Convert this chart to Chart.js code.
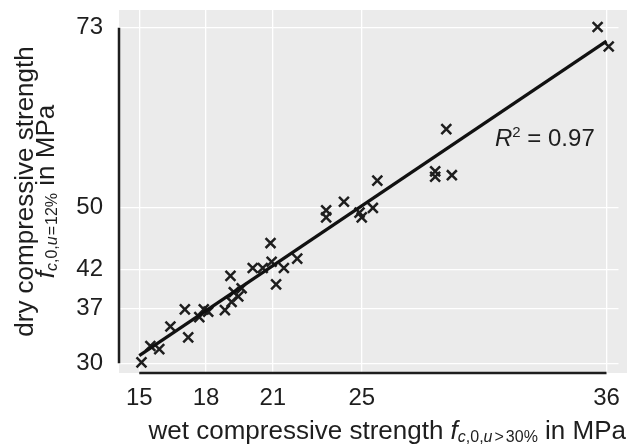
<!DOCTYPE html>
<html>
<head>
<meta charset="utf-8">
<script src="https://cdn.jsdelivr.net/npm/chart.js@4"></script>
<style>
  html, body { margin: 0; padding: 0; background: #fff; overflow: hidden; }
  canvas { display: block; }
</style>
</head>
<body>
<canvas id="strengthChart" width="628" height="446"></canvas>
<script>
// wet vs dry compressive strength (MPa)
const wetStrength = [15.1, 15.5, 15.9, 16.4, 17.2, 17.05, 17.7, 17.9, 18.1, 18.85,
  19.1, 19.25, 19.6, 19.45, 19.15, 20.1, 20.55, 20.9, 20.95, 21.5,
  21.15, 22.1, 23.4, 23.4, 24.2, 24.9, 25.0, 25.5, 25.7, 28.3,
  28.3, 29.05, 28.8, 35.6, 36.1];
const dryStrength = [30.1, 32.2, 31.8, 34.7, 33.3, 36.9, 35.9, 36.9, 36.6, 36.8,
  41.2, 39.1, 39.6, 38.55, 37.85, 42.2, 42.2, 45.4, 43.0, 42.2,
  40.1, 43.4, 49.6, 48.7, 50.7, 49.3, 48.7, 49.9, 53.4, 54.6,
  53.9, 54.1, 60.0, 73.1, 70.6];

// regression line end points
const fitX = [15, 36];
const fitY = [30.96, 71.28];
const rSquared = '0.97';

const xTicks = [15, 18, 21, 25, 36];
const yTicks = [30, 37, 42, 50, 73];

const FONT = '"Liberation Sans", Arial, Helvetica, sans-serif';
const INK = '#1e1e1e';
const X_MIN = 14.09;
const X_PX_PER_UNIT = 22.25;
const PANEL_RIGHT = 627;

// draw a row of text pieces with different fonts / offsets
function drawRuns(ctx, runs, x, y, align) {
  let w = 0;
  runs.forEach(r => { ctx.font = r.font; w += ctx.measureText(r.t).width + (r.pad || 0) * 2; });
  let cx = align === 'right' ? x - w : align === 'center' ? x - w / 2 : x;
  runs.forEach(r => {
    ctx.font = r.font;
    cx += r.pad || 0;
    ctx.fillText(r.t, cx, y + (r.dy || 0));
    cx += ctx.measureText(r.t).width + (r.pad || 0);
  });
}

const frame = {
  id: 'frame',
  beforeDraw(chart) {
    const { ctx, chartArea: a } = chart;
    ctx.save();
    ctx.fillStyle = '#ebebeb';
    ctx.fillRect(a.left, a.top, PANEL_RIGHT - a.left, a.bottom - a.top);
    ctx.restore();
  },
  afterDraw(chart) {
    const { ctx, chartArea: a, scales: { x, y } } = chart;
    ctx.save();
    // range frame axes
    ctx.strokeStyle = INK;
    ctx.lineWidth = 2.5;
    ctx.beginPath();
    ctx.moveTo(a.left, y.getPixelForValue(yTicks[yTicks.length - 1]));
    ctx.lineTo(a.left, y.getPixelForValue(yTicks[0]));
    ctx.moveTo(x.getPixelForValue(xTicks[0]), a.bottom);
    ctx.lineTo(x.getPixelForValue(xTicks[xTicks.length - 1]), a.bottom);
    ctx.stroke();

    ctx.fillStyle = INK;
    ctx.textBaseline = 'alphabetic';
    ctx.textAlign = 'left';

    // x title
    drawRuns(ctx, [
      { t: 'wet compressive strength ', font: `26px ${FONT}` },
      { t: 'f', font: `italic 26px ${FONT}` },
      { t: 'c', font: `italic 16px ${FONT}`, dy: 3 },
      { t: ',0,', font: `16px ${FONT}`, dy: 3 },
      { t: 'u', font: `italic 16px ${FONT}`, dy: 3 },
      { t: '>', font: `16px ${FONT}`, dy: 3, pad: 2 },
      { t: '30%', font: `16px ${FONT}`, dy: 3 },
      { t: ' in MPa', font: `26px ${FONT}` }
    ], 626, 439, 'right');

    // y title, two lines
    const cy = (a.top + a.bottom) / 2;
    ctx.save();
    ctx.translate(33, cy);
    ctx.rotate(-Math.PI / 2);
    drawRuns(ctx, [{ t: 'dry compressive strength', font: `26px ${FONT}` }], 0, 0, 'center');
    ctx.restore();
    ctx.save();
    ctx.translate(54, cy);
    ctx.rotate(-Math.PI / 2);
    drawRuns(ctx, [
      { t: 'f', font: `italic 26px ${FONT}` },
      { t: 'c', font: `italic 16px ${FONT}`, dy: 3 },
      { t: ',0,', font: `16px ${FONT}`, dy: 3 },
      { t: 'u', font: `italic 16px ${FONT}`, dy: 3 },
      { t: '=', font: `16px ${FONT}`, dy: 3, pad: 1 },
      { t: '12%', font: `16px ${FONT}`, dy: 3 },
      { t: ' in MPa', font: `26px ${FONT}` }
    ], 0, 0, 'center');
    ctx.restore();

    // R squared label
    drawRuns(ctx, [
      { t: 'R', font: `italic 24px ${FONT}` },
      { t: '2', font: `15px ${FONT}`, dy: -9 },
      { t: ' = ' + rSquared, font: `24px ${FONT}` }
    ], 495, 146, 'left');
    ctx.restore();
  }
};

const ctx = document.getElementById('strengthChart').getContext('2d');
const strengthChart = new Chart(ctx, {
  type: 'scatter',
  data: {
    datasets: [{
      label: 'fit',
      type: 'line',
      data: fitX.map((v, i) => ({ x: v, y: fitY[i] })),
      borderColor: '#111',
      borderWidth: 3.2,
      pointRadius: 0,
      fill: false
    }, {
      label: 'samples',
      data: wetStrength.map((v, i) => ({ x: v, y: dryStrength[i] })),
      pointStyle: 'crossRot',
      pointRadius: 7,
      borderColor: INK,
      backgroundColor: INK,
      borderWidth: 2.5
    }]
  },
  options: {
    responsive: false,
    animation: false,
    devicePixelRatio: 1,
    layout: { padding: { top: 10, right: 1, left: 0, bottom: 0 } },
    plugins: { legend: { display: false }, tooltip: { enabled: false } },
    scales: {
      x: {
        type: 'linear',
        min: X_MIN,
        max: 36.92,
        afterBuildTicks: s => { s.ticks = xTicks.map(v => ({ value: v })); },
        afterFit: s => { s.height = 73; s.paddingLeft = 0; s.paddingRight = 0; },
        grid: { color: '#ffffff', lineWidth: 1.3, drawTicks: false },
        border: { display: false },
        ticks: { color: INK, font: { family: FONT, size: 24 }, padding: 11, maxRotation: 0, autoSkip: false }
      },
      y: {
        type: 'linear',
        min: 28.74,
        max: 75.28,
        afterBuildTicks: s => { s.ticks = yTicks.map(v => ({ value: v })); },
        afterFit: s => { s.width = 119; s.paddingTop = 0; s.paddingBottom = 0; },
        grid: { color: '#ffffff', lineWidth: 1.3, drawTicks: false },
        border: { display: false },
        ticks: { color: INK, font: { family: FONT, size: 24 }, padding: 16, autoSkip: false }
      }
    }
  },
  plugins: [frame]
});

// keep the same units-per-pixel as the figure whatever width the layout leaves
const area = strengthChart.chartArea;
strengthChart.options.scales.x.max = X_MIN + (area.right - area.left) / X_PX_PER_UNIT;
strengthChart.update();
</script>
</body>
</html>
